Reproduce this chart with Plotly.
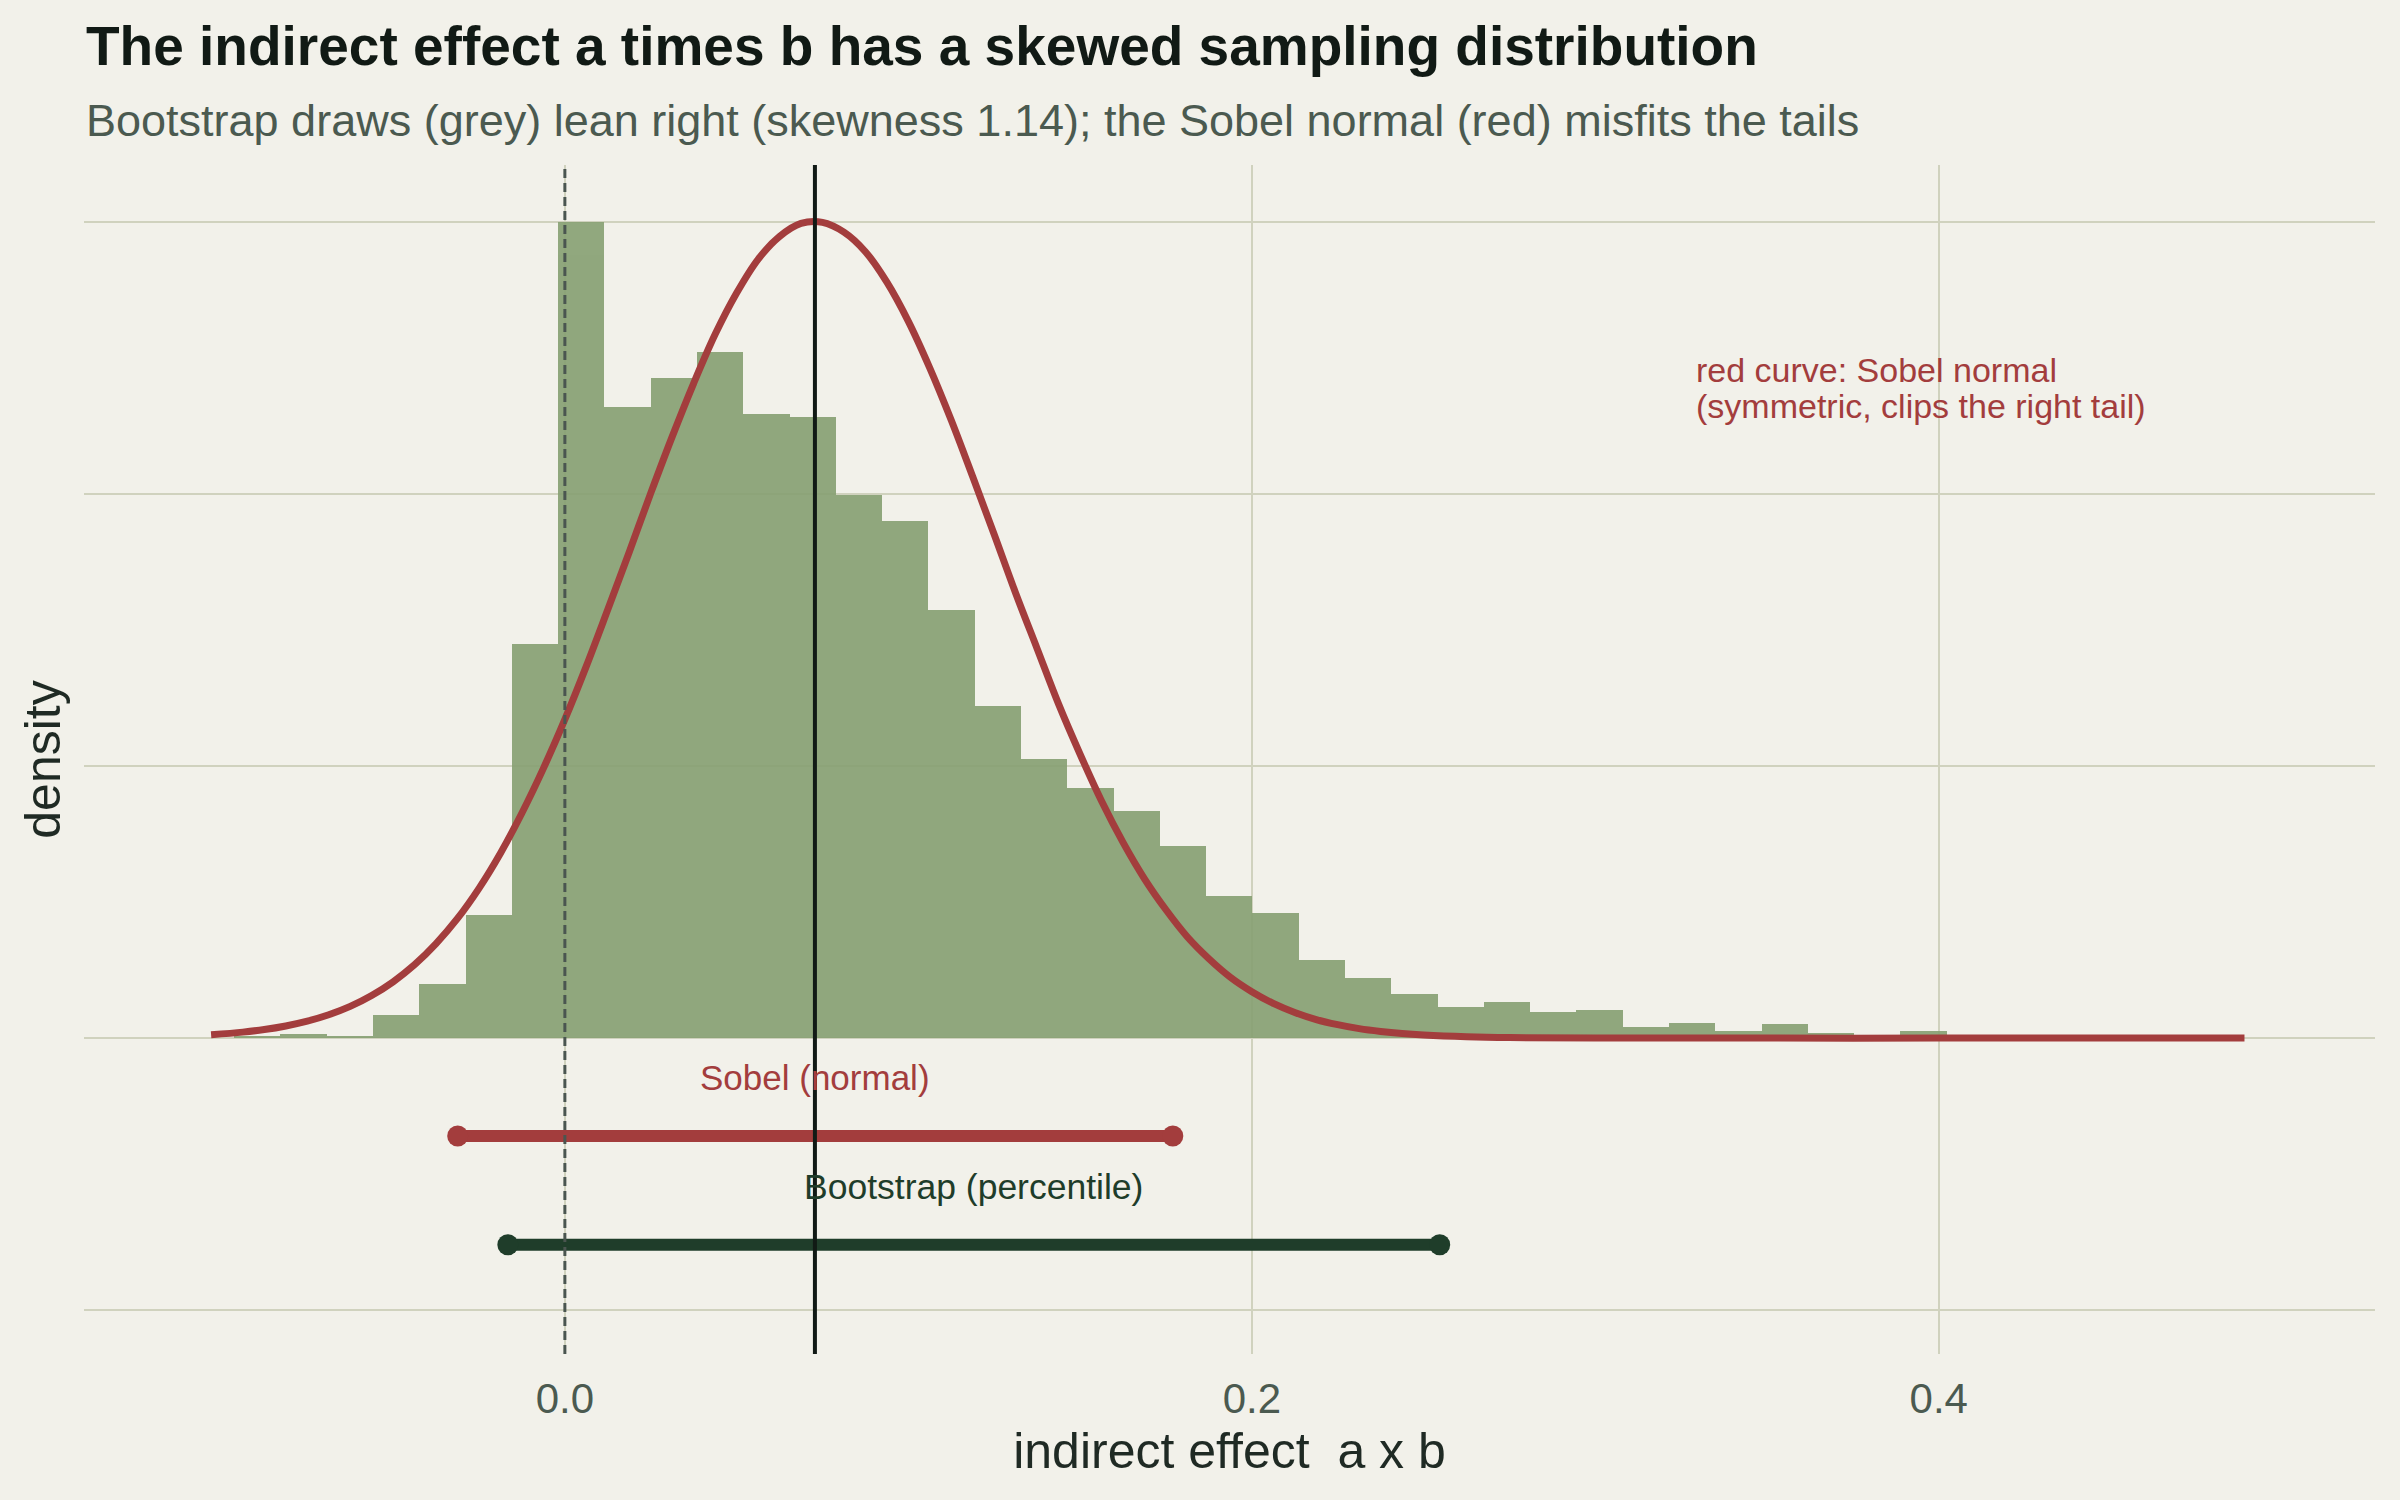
import plotly.graph_objects as go

# ---------------- data ----------------
bin_start = -0.0963          # left edge of first histogram bin
bin_width = 0.013476         # histogram bin width
boot_density = [0.02, 0.04, 0.02, 0.21, 0.50, 1.13, 3.62, 7.50, 5.80, 6.07,
                6.31, 5.74, 5.71, 4.99, 4.75, 3.94, 3.05, 2.57, 2.30, 2.09,
                1.77, 1.31, 1.15, 0.72, 0.55, 0.41, 0.29, 0.33, 0.24, 0.26,
                0.10, 0.14, 0.07, 0.13, 0.05, 0.00, 0.07]

sobel_x = [-0.103, -0.09375, -0.0875, -0.08125, -0.075, -0.06875, -0.0625,
           -0.05625, -0.05, -0.04375, -0.0375, -0.03125, -0.025, -0.01875,
           -0.0125, -0.00625, 0.0, 0.00625, 0.0125, 0.01875, 0.025, 0.03125,
           0.0375, 0.04375, 0.05, 0.05625, 0.0625, 0.06875, 0.075, 0.08125,
           0.0875, 0.09375, 0.1, 0.10625, 0.1125, 0.11875, 0.125, 0.13125,
           0.1375, 0.14375, 0.15, 0.15625, 0.1625, 0.16875, 0.175, 0.18125,
           0.1875, 0.19375, 0.2, 0.20625, 0.2125, 0.21875, 0.225, 0.23125,
           0.2375, 0.24375, 0.25, 0.2625, 0.275, 0.3, 0.35, 0.4, 0.45, 0.489]
sobel_y = [0.031, 0.055, 0.079, 0.112, 0.156, 0.215, 0.292, 0.392, 0.518,
           0.675, 0.869, 1.10, 1.377, 1.70, 2.07, 2.48, 2.93, 3.42, 3.94,
           4.47, 5.01, 5.53, 6.02, 6.47, 6.85, 7.16, 7.37, 7.49, 7.50, 7.41,
           7.23, 6.95, 6.59, 6.16, 5.68, 5.16, 4.63, 4.09, 3.58, 3.07, 2.61,
           2.18, 1.80, 1.465, 1.18, 0.93, 0.73, 0.56, 0.427, 0.319, 0.236,
           0.171, 0.124, 0.087, 0.061, 0.042, 0.029, 0.013, 0.005, 0.001,
           0.0, 0.0, 0.0, 0.0]

point_estimate = 0.0728
sobel_ci = [-0.0312, 0.177]
boot_ci = [-0.0166, 0.2547]
sobel_row = -0.90
boot_row = -1.90

x_ticks = [0.0, 0.2, 0.4]
x_tick_labels = ["0.0", "0.2", "0.4"]
y_grid = [-2.5, 0.0, 2.5, 5.0, 7.5]

title_text = "The indirect effect a times b has a skewed sampling distribution"
subtitle_text = ("Bootstrap draws (grey) lean right (skewness 1.14); "
                 "the Sobel normal (red) misfits the tails")
note_lines = ["red curve: Sobel normal", "(symmetric, clips the right tail)"]

# ---------------- styles ----------------
BG = "#F2F1EA"
GRID = "#D0D2BE"
GREEN_BAR = "#86A072"
RED = "#A33D3D"
DARK_GREEN = "#1F3D2A"
INK = "#111A15"
SUB = "#4B5A50"
FONT = "Liberation Sans, Arial, sans-serif"

bin_centers = [bin_start + bin_width * (i + 0.5) for i in range(len(boot_density))]

fig = go.Figure()

fig.add_trace(go.Bar(
    x=bin_centers, y=boot_density, width=bin_width,
    marker=dict(color=GREEN_BAR, line=dict(width=0)),
    opacity=0.9, showlegend=False, hoverinfo="skip"))

fig.add_trace(go.Scatter(
    x=sobel_x, y=sobel_y, mode="lines",
    line=dict(color=RED, width=7, shape="spline", smoothing=1.0),
    showlegend=False, hoverinfo="skip"))

fig.add_trace(go.Scatter(
    x=sobel_ci, y=[sobel_row, sobel_row], mode="lines+markers",
    line=dict(color=RED, width=12), marker=dict(color=RED, size=21),
    showlegend=False, hoverinfo="skip"))

fig.add_trace(go.Scatter(
    x=boot_ci, y=[boot_row, boot_row], mode="lines+markers",
    line=dict(color=DARK_GREEN, width=12), marker=dict(color=DARK_GREEN, size=21),
    showlegend=False, hoverinfo="skip"))

# reference lines
fig.add_shape(type="line", xref="x", yref="paper", x0=0, x1=0, y0=0, y1=1,
              line=dict(color="#4A5550", width=3, dash="9px,5px"), layer="above")
fig.add_shape(type="line", xref="x", yref="paper", x0=point_estimate, x1=point_estimate,
              y0=0, y1=1, line=dict(color=INK, width=4), layer="above")

# interval labels
fig.add_annotation(x=sum(sobel_ci) / 2, y=sobel_row + 0.54, text="Sobel (normal)",
                   showarrow=False, font=dict(family=FONT, size=35, color=RED),
                   xanchor="center", yanchor="middle")
fig.add_annotation(x=sum(boot_ci) / 2, y=boot_row + 0.53, text="Bootstrap (percentile)",
                   showarrow=False, font=dict(family=FONT, size=35.5, color=DARK_GREEN),
                   xanchor="center", yanchor="middle")
for line_text, line_y in zip(note_lines, [6.14, 5.815]):
    fig.add_annotation(x=0.3287, y=line_y, text=line_text,
                       showarrow=False, align="left", xanchor="left", yanchor="middle",
                       font=dict(family=FONT, size=34, color=RED))

# title and subtitle
fig.add_annotation(xref="paper", yref="paper", x=0, y=1.100, text="<b>" + title_text + "</b>",
                   showarrow=False, xanchor="left", yanchor="middle",
                   font=dict(family=FONT, size=55, color=INK))
fig.add_annotation(xref="paper", yref="paper", x=0, y=1.0375, text=subtitle_text,
                   showarrow=False, xanchor="left", yanchor="middle",
                   font=dict(family=FONT, size=45, color=SUB))

fig.update_layout(
    width=2400, height=1500,
    margin=dict(l=84, r=25, t=165, b=146, autoexpand=False),
    paper_bgcolor=BG, plot_bgcolor=BG,
    bargap=0, showlegend=False,
    font=dict(family=FONT, color=INK),
)

fig.update_xaxes(
    range=[-0.140, 0.527], tickvals=x_ticks, ticktext=x_tick_labels,
    showgrid=True, gridcolor=GRID, gridwidth=2, zeroline=False,
    showline=False, ticks="", ticklabelstandoff=16,
    tickfont=dict(family=FONT, size=42, color=SUB),
    title=dict(text="indirect effect  a x b", standoff=11,
               font=dict(family=FONT, size=50, color="#1F2A24")),
    automargin=False,
)
fig.update_yaxes(
    range=[-2.904, 8.027], tickvals=y_grid, showticklabels=False,
    showgrid=True, gridcolor=GRID, gridwidth=2, zeroline=False,
    showline=False, ticks="",
    title=dict(text="density", standoff=6,
               font=dict(family=FONT, size=50, color="#1F2A24")),
    automargin=False,
)

fig.write_html("out.html")
